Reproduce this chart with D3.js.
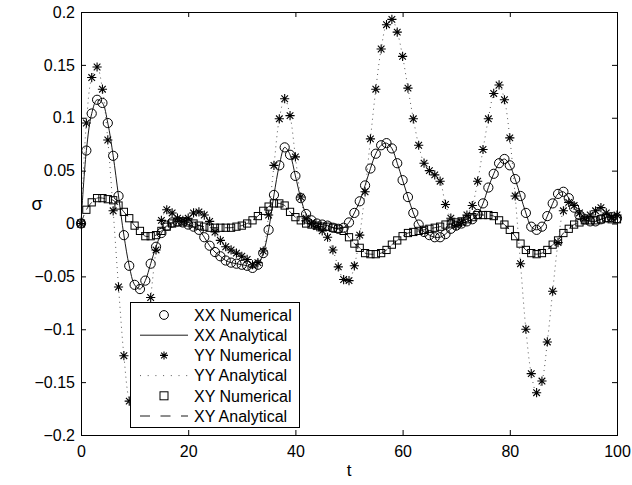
<!DOCTYPE html>
<html lang="en">
<head>
<meta charset="utf-8">
<title>sigma vs t</title>
<script src="https://d3js.org/d3.v7.min.js"></script>
<style>
  body { margin: 0; background: #fff; }
  svg text { font-family: "Liberation Sans", Arial, Helvetica, sans-serif; fill: #000; }
</style>
</head>
<body>
<script>
var w = 632, h = 485;

// time samples
var tValues = [
  0, 1, 2, 3, 4, 5, 6, 7, 8, 9,
  10, 11, 12, 13, 14, 15, 16, 17, 18, 19,
  20, 21, 22, 23, 24, 25, 26, 27, 28, 29,
  30, 31, 32, 33, 34, 35, 36, 37, 38, 39,
  40, 41, 42, 43, 44, 45, 46, 47, 48, 49,
  50, 51, 52, 53, 54, 55, 56, 57, 58, 59,
  60, 61, 62, 63, 64, 65, 66, 67, 68, 69,
  70, 71, 72, 73, 74, 75, 76, 77, 78, 79,
  80, 81, 82, 83, 84, 85, 86, 87, 88, 89,
  90, 91, 92, 93, 94, 95, 96, 97, 98, 99,
  100
];
var xxValues = [
  0, 0.069, 0.104, 0.117, 0.114, 0.095, 0.064, 0.026, -0.011, -0.040,
  -0.058, -0.062, -0.054, -0.038, -0.022, -0.009, -0.002, 0.001, 0.002, 0.001,
  -0.001, -0.003, -0.006, -0.013, -0.021, -0.027, -0.031, -0.035, -0.037, -0.038,
  -0.039, -0.040, -0.042, -0.039, -0.028, -0.006, 0.027, 0.055, 0.072, 0.065,
  0.045, 0.024, 0.009, 0.003, 0.000, -0.001, -0.002, -0.004, -0.005, -0.004,
  0.001, 0.010, 0.021, 0.036, 0.052, 0.066, 0.074, 0.076, 0.071, 0.057,
  0.041, 0.025, 0.010, -0.001, -0.008, -0.011, -0.013, -0.013, -0.010, -0.005,
  -0.002, 0.000, 0.002, 0.004, 0.009, 0.019, 0.034, 0.047, 0.057, 0.061,
  0.055, 0.042, 0.026, 0.010, -0.003, -0.006, -0.003, 0.007, 0.019, 0.028,
  0.030, 0.024, 0.015, 0.008, 0.004, 0.002, 0.002, 0.004, 0.006, 0.006,
  0.005
];
var yyValues = [
  0, 0.095, 0.138, 0.148, 0.127, 0.079, 0.012, -0.060, -0.125, -0.168,
  -0.182, -0.160, -0.115, -0.070, -0.025, 0.003, 0.013, 0.010, 0.005, 0.003,
  0.005, 0.010, 0.011, 0.008, 0.002, -0.008, -0.016, -0.022, -0.025, -0.028,
  -0.031, -0.034, -0.039, -0.037, -0.026, 0.008, 0.055, 0.099, 0.118, 0.102,
  0.063, 0.025, 0.005, 0.000, -0.003, -0.007, -0.013, -0.025, -0.041, -0.053,
  -0.054, -0.040, -0.011, 0.030, 0.080, 0.127, 0.165, 0.188, 0.193, 0.181,
  0.158, 0.128, 0.099, 0.074, 0.057, 0.050, 0.046, 0.040, 0.018, 0.005,
  -0.002, 0.001, 0.008, 0.017, 0.040, 0.070, 0.099, 0.123, 0.131, 0.117,
  0.081, 0.026, -0.038, -0.100, -0.142, -0.160, -0.149, -0.112, -0.064, -0.018,
  0.012, 0.020, 0.017, 0.010, 0.005, 0.008, 0.012, 0.015, 0.010, 0.006,
  0.008
];
var xyValues = [
  0, 0.013, 0.020, 0.024, 0.024, 0.023, 0.022, 0.017, 0.011, 0.005,
  -0.002, -0.007, -0.012, -0.012, -0.011, -0.007, -0.003, 0.000, 0.001, 0.002,
  0.001, 0.000, -0.002, -0.003, -0.004, -0.004, -0.004, -0.004, -0.004, -0.003,
  -0.002, 0.000, 0.003, 0.007, 0.012, 0.016, 0.019, 0.019, 0.017, 0.011,
  0.006, 0.003, 0.000, -0.001, -0.002, -0.003, -0.003, -0.004, -0.005, -0.007,
  -0.013, -0.019, -0.023, -0.028, -0.029, -0.029, -0.028, -0.025, -0.020, -0.016,
  -0.012, -0.009, -0.008, -0.007, -0.006, -0.005, -0.004, -0.003, -0.001, 0.000,
  0.001, 0.002, 0.004, 0.006, 0.008, 0.008, 0.008, 0.007, 0.003, -0.001,
  -0.006, -0.012, -0.019, -0.025, -0.028, -0.029, -0.028, -0.025, -0.020, -0.016,
  -0.009, -0.005, -0.001, 0.001, 0.003, 0.003, 0.003, 0.004, 0.005, 0.004,
  0.004
];
var xTicks = [0, 20, 40, 60, 80, 100];
var yTicks = [-0.2, -0.15, -0.1, -0.05, 0, 0.05, 0.1, 0.15, 0.2];
var yTickLabels = ["\u22120.2", "\u22120.15", "\u22120.1", "\u22120.05", "0", "0.05", "0.1", "0.15", "0.2"];
var legendLabels = ["XX Numerical", "XX Analytical", "YY Numerical", "YY Analytical", "XY Numerical", "XY Analytical"];

var x0 = 81, x1 = 617, y0 = 12, y1 = 435;
var xScale = d3.scaleLinear().domain([0, 100]).range([x0, x1]);
var yScale = d3.scaleLinear().domain([-0.2, 0.2]).range([y1, y0]);

var svg = d3.select("body").append("svg")
  .attr("width", w)
  .attr("height", h);

var plot = svg.append("g");

// asterisk marker: plus and cross
function starPath(r) {
  var d = r * 0.72;
  return "M" + (-r) + ",0H" + r + "M0," + (-r) + "V" + r +
    "M" + (-d) + "," + (-d) + "L" + d + "," + d +
    "M" + (-d) + "," + d + "L" + d + "," + (-d);
}

function series(vals) {
  return tValues.map(function(t, i) { return {t: t, v: vals[i]}; });
}

var line = d3.line()
  .x(function(d) { return xScale(d.t); })
  .y(function(d) { return yScale(d.v); })
  .curve(d3.curveCatmullRom);

// XX numerical (circles)
plot.append("g").selectAll("circle")
  .data(series(xxValues))
  .enter().append("circle")
  .attr("cx", function(d) { return xScale(d.t); })
  .attr("cy", function(d) { return yScale(d.v); })
  .attr("r", 4.6)
  .attr("fill", "none")
  .attr("stroke", "#000")
  .attr("stroke-width", 1);

// XX analytical (solid)
plot.append("path")
  .datum(series(xxValues))
  .attr("d", line)
  .attr("fill", "none")
  .attr("stroke", "#000")
  .attr("stroke-width", 0.9);

// YY numerical (stars)
plot.append("g").selectAll("path")
  .data(series(yyValues))
  .enter().append("path")
  .attr("transform", function(d) { return "translate(" + xScale(d.t) + "," + yScale(d.v) + ")"; })
  .attr("d", starPath(4.6))
  .attr("fill", "none")
  .attr("stroke", "#000")
  .attr("stroke-width", 1.1);

// YY analytical (dotted)
plot.append("path")
  .datum(series(yyValues))
  .attr("d", line)
  .attr("fill", "none")
  .attr("stroke", "#444")
  .attr("stroke-width", 0.9)
  .attr("stroke-dasharray", "1,4");

// XY numerical (squares)
plot.append("g").selectAll("rect")
  .data(series(xyValues))
  .enter().append("rect")
  .attr("x", function(d) { return xScale(d.t) - 3.6; })
  .attr("y", function(d) { return yScale(d.v) - 3.6; })
  .attr("width", 7.2)
  .attr("height", 7.2)
  .attr("fill", "none")
  .attr("stroke", "#000")
  .attr("stroke-width", 1);

// XY analytical (dashed)
plot.append("path")
  .datum(series(xyValues))
  .attr("d", line)
  .attr("fill", "none")
  .attr("stroke", "#000")
  .attr("stroke-width", 0.8)
  .attr("stroke-dasharray", "9,6");

// axes, ticks inside
var xAxis = d3.axisBottom(xScale).tickValues(xTicks).tickSize(-5).tickPadding(11);
var yAxis = d3.axisLeft(yScale).tickValues(yTicks).tickSize(-5).tickPadding(6)
  .tickFormat(function(d, i) { return yTickLabels[i]; });
var xTop = d3.axisTop(xScale).tickValues(xTicks).tickSize(-5).tickFormat("");
var yRight = d3.axisRight(yScale).tickValues(yTicks).tickSize(-5).tickFormat("");

svg.append("g").attr("class", "axis").attr("transform", "translate(0," + y1 + ")").call(xAxis);
svg.append("g").attr("class", "axis").attr("transform", "translate(" + x0 + ",0)").call(yAxis);
svg.append("g").attr("class", "axis").attr("transform", "translate(0," + y0 + ")").call(xTop);
svg.append("g").attr("class", "axis").attr("transform", "translate(" + x1 + ",0)").call(yRight);

svg.selectAll(".axis .domain").remove();
svg.selectAll(".axis text").style("font-size", "16px");
svg.selectAll(".axis line").attr("stroke", "#000");

// box
svg.append("rect")
  .attr("x", x0 + 0.5).attr("y", y0 + 0.5)
  .attr("width", x1 - x0).attr("height", y1 - y0)
  .attr("fill", "none")
  .attr("stroke", "#000")
  .attr("stroke-width", 1);

// axis labels
svg.append("text")
  .attr("x", (x0 + x1) / 2)
  .attr("y", 476)
  .attr("text-anchor", "middle")
  .style("font-size", "17px")
  .text("t");

svg.append("text")
  .attr("x", 37)
  .attr("y", 210)
  .attr("text-anchor", "middle")
  .style("font-size", "18px")
  .text("\u03c3");

// legend
var lg = svg.append("g").attr("transform", "translate(130,302)");
lg.append("rect")
  .attr("x", 0.5).attr("y", 0.5)
  .attr("width", 169).attr("height", 125)
  .attr("fill", "#fff")
  .attr("stroke", "#000")
  .attr("stroke-width", 1);

var rowY = function(i) { return 13 + i * 20.2; };

lg.selectAll("text.lab")
  .data(legendLabels)
  .enter().append("text")
  .attr("class", "lab")
  .attr("x", 64)
  .attr("y", function(d, i) { return rowY(i) + 5.7; })
  .style("font-size", "16px")
  .text(function(d) { return d; });

lg.append("circle")
  .attr("cx", 34).attr("cy", rowY(0)).attr("r", 4.4)
  .attr("fill", "none").attr("stroke", "#000").attr("stroke-width", 1);
lg.append("line")
  .attr("x1", 10).attr("x2", 58).attr("y1", rowY(1)).attr("y2", rowY(1))
  .attr("stroke", "#000").attr("stroke-width", 0.9);
lg.append("path")
  .attr("transform", "translate(34," + rowY(2) + ")")
  .attr("d", starPath(4))
  .attr("fill", "none").attr("stroke", "#000").attr("stroke-width", 1.1);
lg.append("line")
  .attr("x1", 10).attr("x2", 58).attr("y1", rowY(3)).attr("y2", rowY(3))
  .attr("stroke", "#444").attr("stroke-width", 0.9).attr("stroke-dasharray", "1,6.7");
lg.append("rect")
  .attr("x", 30).attr("y", rowY(4) - 4).attr("width", 8).attr("height", 8)
  .attr("fill", "none").attr("stroke", "#000").attr("stroke-width", 1);
lg.append("line")
  .attr("x1", 10).attr("x2", 58).attr("y1", rowY(5)).attr("y2", rowY(5))
  .attr("stroke", "#000").attr("stroke-width", 0.9).attr("stroke-dasharray", "10,10.5");
</script>
</body>
</html>
